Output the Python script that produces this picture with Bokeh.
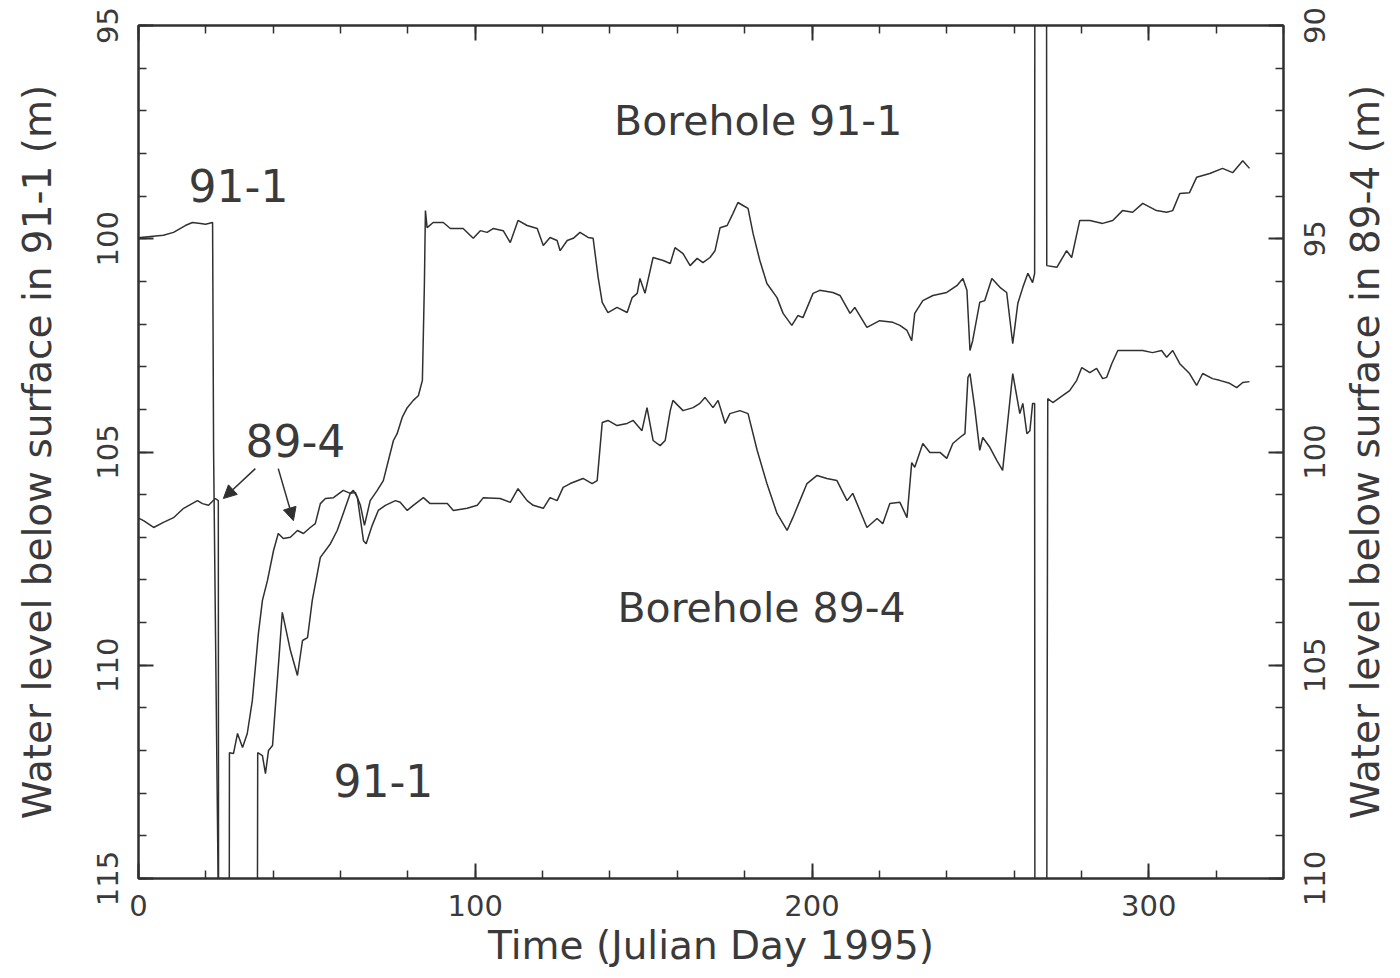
import math
from bokeh.plotting import figure
from bokeh.layouts import row
from bokeh.models import (Range1d, LinearAxis, SingleIntervalTicker, Label, Arrow, NormalHead,
                          CustomJSTickFormatter)
from bokeh.embed import file_html
from bokeh.resources import INLINE

# ---- data: Borehole 91-1 (left axis, m below surface) ----
day_91 = [0, 0.6, 7.4, 10.4, 13.9, 16.0, 18.4, 19.9, 22.0, 22.3, 23.7, 23.8,
          35.2, 35.4, 36.8, 37.7, 38.6, 39.8, 42.7, 45.1, 47.2, 48.7,
          50.2, 51.6, 54.0, 57.0, 59.0, 60.8, 62.9, 64.4, 65.9, 67.1,
          68.8, 70.9, 72.7, 75.7, 76.8, 78.3, 79.8, 81.6, 83.1, 84.3,
          84.9, 85.2, 85.7, 87.5, 90.5, 92.6, 96.4, 99.4, 101.5, 103.5,
          105.3, 108.3, 110.4, 112.7, 115.4, 118.4, 120.2, 122.2, 124.3, 125.2,
          127.3, 129.1, 131.1, 133.5, 135.0, 136.5, 137.7, 139.4, 142.1, 145.1,
          146.6, 148.1, 148.9, 150.4, 152.8, 155.8, 157.9, 159.3, 161.7, 163.8,
          165.9, 167.6, 169.7, 171.2, 172.7, 174.8, 176.5, 178.0, 179.5, 181.0,
          182.5, 184.5, 186.6, 189.6, 191.4, 194.0, 195.8, 197.3, 200.3, 202.3,
          206.2, 208.3, 211.3, 212.7, 216.3, 220.1, 224.0, 226.1, 228.2, 229.6,
          230.5, 232.9, 235.9, 240.0, 243.0, 244.8, 246.0, 246.9, 247.7, 249.8,
          251.3, 253.4, 255.8, 257.8, 259.6, 261.1, 262.6, 264.1, 265.5, 266.1,
          266.2, 269.6, 269.7, 272.7, 275.6, 277.1, 279.5, 282.5, 286.3, 289.3,
          292.2, 295.2, 298.2, 302.3, 305.3, 307.1, 309.2, 312.1, 314.2, 318.1,
          321.9, 324.9, 327.9, 329.9]
lvl_91 = [100.0, 99.97, 99.92, 99.85, 99.69, 99.62, 99.64, 99.66, 99.62, 105.0, 115.5, 120,
          120, 112.05, 112.12, 112.54, 112.0, 111.88, 108.76, 109.65, 110.24, 109.42,
          109.35, 108.48, 107.47, 107.15, 106.84, 106.44, 105.97, 105.95, 106.25, 106.72,
          106.14, 105.90, 105.67, 104.73, 104.57, 104.19, 103.96, 103.79, 103.68, 103.32,
          101.05, 99.34, 99.74, 99.62, 99.62, 99.76, 99.76, 99.99, 99.81, 99.85,
          99.76, 99.81, 100.09, 99.57, 99.69, 99.76, 100.16, 99.97, 100.04, 100.28,
          100.04, 99.99, 99.85, 99.97, 99.99, 100.91, 101.49, 101.73, 101.61, 101.73,
          101.38, 101.28, 100.93, 101.28, 100.44, 100.51, 100.58, 100.21, 100.35, 100.63,
          100.46, 100.56, 100.44, 100.28, 99.74, 99.69, 99.41, 99.15, 99.22, 99.29,
          99.88, 100.51, 101.05, 101.38, 101.75, 102.03, 101.80, 101.85, 101.28, 101.21,
          101.26, 101.33, 101.75, 101.61, 102.08, 101.92, 101.96, 102.03, 102.15, 102.39,
          101.75, 101.45, 101.33, 101.26, 101.10, 100.93, 101.21, 102.62, 102.39, 101.49,
          101.45, 100.93, 101.14, 101.26, 102.46, 101.52, 101.14, 100.81, 101.03, 100.81,
          90, 90, 100.63, 100.67, 100.28, 100.44, 99.57, 99.57, 99.64, 99.57,
          99.34, 99.38, 99.17, 99.34, 99.38, 99.34, 98.94, 98.92, 98.56, 98.47,
          98.35, 98.45, 98.17, 98.35]

# ---- data: Borehole 89-4 (right axis, m below surface) ----
day_89 = [0, 1.5, 4.5, 7.4, 10.4, 13.4, 17.5, 19.0, 20.8, 22.8,
          23.7, 23.8, 26.9, 27.0, 28.2, 29.4, 30.9, 32.3, 33.8, 34.7,
          35.6, 36.8, 38.3, 40.1, 41.5, 43.0, 45.1, 47.2, 49.0, 51.0,
          52.5, 54.0, 55.5, 57.9, 60.8, 62.9, 63.8, 65.0, 66.8, 67.6,
          69.4, 71.2, 73.3, 76.3, 77.7, 79.8, 81.6, 84.6, 86.6, 91.7,
          93.5, 97.6, 100.6, 102.4, 107.4, 110.4, 112.7, 115.4, 117.2, 120.2,
          122.2, 124.3, 126.1, 128.2, 132.0, 134.7, 136.2, 137.7, 139.4, 142.1,
          145.1, 146.9, 149.5, 151.0, 152.8, 154.9, 156.4, 157.9, 158.7, 161.7,
          164.7, 166.7, 168.2, 170.6, 172.1, 174.2, 175.6, 178.6, 181.0, 183.7,
          186.6, 189.6, 192.6, 194.3, 196.4, 198.5, 201.5, 204.4, 207.4, 210.4,
          212.1, 216.3, 219.3, 221.0, 223.1, 226.1, 228.2, 229.6, 230.5, 232.9,
          235.0, 238.0, 240.0, 241.8, 243.9, 245.4, 246.3, 246.9, 248.3, 249.8,
          250.7, 252.8, 254.9, 256.6, 259.6, 261.7, 262.6, 263.8, 264.7, 265.5,
          266.1, 266.2, 269.6, 270.0, 271.5, 274.4, 276.5, 278.6, 280.1, 282.5,
          284.5, 286.3, 287.5, 289.0, 290.8, 294.3, 298.2, 301.1, 303.8, 305.3,
          307.1, 309.2, 312.1, 314.2, 316.0, 318.9, 321.0, 324.0, 326.1, 327.9,
          329.9]
lvl_89 = [101.55, 101.61, 101.77, 101.65, 101.54, 101.32, 101.14, 101.21, 101.25, 101.09,
          101.14, 115, 115, 107.05, 107.07, 106.60, 106.93, 106.60, 105.83, 105.05,
          104.26, 103.48, 103.01, 102.31, 101.91, 102.03, 102.00, 101.84, 101.91, 101.77,
          101.68, 101.21, 101.09, 101.07, 100.90, 100.97, 100.90, 101.07, 102.08, 102.15,
          101.72, 101.37, 101.25, 101.14, 101.18, 101.37, 101.25, 101.07, 101.21, 101.21,
          101.37, 101.32, 101.25, 101.07, 101.09, 101.18, 100.86, 101.14, 101.25, 101.32,
          101.07, 101.14, 100.83, 100.74, 100.62, 100.74, 100.67, 99.31, 99.26, 99.38,
          99.33, 99.26, 99.50, 98.96, 99.73, 99.85, 99.73, 99.03, 98.79, 99.03,
          98.96, 98.86, 98.72, 98.96, 98.79, 99.33, 99.10, 99.03, 99.10, 99.96,
          100.74, 101.44, 101.84, 101.54, 101.14, 100.74, 100.55, 100.62, 100.67, 101.14,
          100.97, 101.77, 101.56, 101.68, 101.21, 101.18, 101.54, 100.25, 100.36, 99.80,
          100.01, 100.01, 100.15, 99.80, 99.66, 99.57, 98.25, 98.16, 98.96, 99.96,
          99.66, 99.89, 100.20, 100.43, 98.16, 99.10, 98.86, 99.57, 99.50, 98.86,
          98.86, 115, 115, 98.75, 98.84, 98.68, 98.56, 98.32, 98.02, 98.14,
          98.04, 98.28, 98.25, 97.93, 97.62, 97.62, 97.62, 97.67, 97.62, 97.78,
          97.62, 97.93, 98.16, 98.44, 98.16, 98.28, 98.32, 98.39, 98.49, 98.37,
          98.35]

x_ticks_major = 100
y_ticks_major = 5
right_axis_title = "Water level below surface in 89-4 (m)"

INK = "#303030"
TXT = "#3a3a3a"
FONT = "DejaVu Sans"
H = 975
WP = 1287
W1 = 42
W2 = 1400 - WP - W1
B_TOP, B_BOTTOM = 25, 97

p = figure(width=WP, height=H, output_backend="svg", toolbar_location=None,
           x_range=Range1d(0, 340), y_range=Range1d(115, 95),
           min_border_left=138, min_border_right=4, min_border_top=B_TOP, min_border_bottom=B_BOTTOM,
           background_fill_color="white", border_fill_color="white")
r_range = Range1d(110, 90)
p.extra_y_ranges = {"r": r_range}
p.grid.visible = False
p.outline_line_color = INK
p.outline_line_width = 2

def style(ax):
    ax.axis_line_color = INK
    ax.axis_line_width = 2
    ax.major_tick_in = 15
    ax.major_tick_out = 0
    ax.minor_tick_in = 8
    ax.minor_tick_out = 0
    ax.major_tick_line_color = INK
    ax.minor_tick_line_color = INK
    ax.major_tick_line_width = 2
    ax.minor_tick_line_width = 1.5
    ax.major_label_text_font = FONT
    ax.major_label_text_font_size = "29px"
    ax.major_label_text_color = TXT
    ax.axis_label_text_font = FONT
    ax.axis_label_text_font_size = "39px"
    ax.axis_label_text_font_style = "normal"
    ax.axis_label_text_color = TXT

def hide_lines(ax):
    ax.axis_line_color = None
    ax.major_tick_line_color = None
    ax.minor_tick_line_color = None
    ax.major_tick_in = 0
    ax.minor_tick_in = 0

xa = p.xaxis[0]
xa.ticker = SingleIntervalTicker(interval=x_ticks_major, num_minor_ticks=5)
xa.axis_label = "Time (Julian Day 1995)"
style(xa)
xa.major_label_standoff = 16
xa.axis_label_standoff = 4

ya = p.yaxis[0]
ya.ticker = SingleIntervalTicker(interval=y_ticks_major, num_minor_ticks=5)
ya.axis_label = "Water level below surface in 91-1 (m)"
style(ya)
ya.major_label_orientation = "vertical"
ya.major_label_standoff = 21
ya.axis_label_standoff = 34

# right axis of the plot: ticks only; its upward-reading labels come from the side panels below
ra = LinearAxis(y_range_name="r", ticker=SingleIntervalTicker(interval=y_ticks_major, num_minor_ticks=5),
                formatter=CustomJSTickFormatter(code="return ''"))
style(ra)
ra.major_label_text_font_size = "1px"
ra.major_label_standoff = 0
p.add_layout(ra, "right")

ta = LinearAxis(ticker=SingleIntervalTicker(interval=x_ticks_major, num_minor_ticks=5),
                formatter=CustomJSTickFormatter(code="return ''"))
style(ta)
ta.major_label_text_font_size = "1px"
ta.major_label_standoff = 0
p.add_layout(ta, "above")

p.line(day_91, lvl_91, line_color=INK, line_width=1.5)
p.line(day_89, lvl_89, line_color=INK, line_width=1.5, y_range_name="r")

def lab(x, y, t, size):
    p.add_layout(Label(x=x, y=y, text=t, text_align="center", text_baseline="middle",
                       text_font=FONT, text_font_size=size, text_color=TXT))

lab(184, 97.25, "Borehole 91-1", "41px")
lab(185, 108.65, "Borehole 89-4", "41px")
lab(29.7, 98.75, "91-1", "44px")
lab(46.6, 104.73, "89-4", "44px")
lab(72.7, 112.7, "91-1", "44px")

for xs, ys, xe, ye in [(34.7, 105.39, 25.2, 106.09), (41.5, 105.39, 46.0, 106.61)]:
    p.add_layout(Arrow(end=NormalHead(size=13, fill_color=INK, line_color=INK),
                       x_start=xs, y_start=ys, x_end=xe, y_end=ye,
                       line_color=INK, line_width=1.5))

def side_panel(width, border_left):
    q = figure(width=width, height=H, output_backend="svg", toolbar_location=None,
               x_range=Range1d(0, 1), y_range=r_range,
               x_axis_location=None, y_axis_location="left",
               min_border_left=border_left, min_border_right=0,
               min_border_top=B_TOP, min_border_bottom=B_BOTTOM,
               background_fill_color="white", border_fill_color="white")
    q.grid.visible = False
    q.outline_line_color = None
    ax = q.yaxis[0]
    style(ax)
    hide_lines(ax)
    ax.ticker = SingleIntervalTicker(interval=y_ticks_major, num_minor_ticks=0)
    return q, ax

# panel 1: 89-4 tick labels (reading upwards)
q1, a1 = side_panel(W1, 38)
a1.major_label_orientation = "vertical"
a1.major_label_standoff = 1

# panel 2: 89-4 axis title (reading upwards)
q2, a2 = side_panel(W2, 58)
a2.formatter = CustomJSTickFormatter(code="return ''")
a2.major_label_text_font_size = "1px"
a2.major_label_standoff = 0
a2.axis_label = right_axis_title
a2.axis_label_standoff = 0

open("out.html", "w").write(file_html(row(p, q1, q2), INLINE))
